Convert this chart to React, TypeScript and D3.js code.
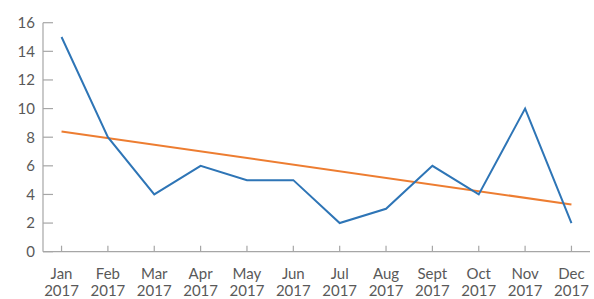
import React from 'react';
import * as d3 from 'd3';

const months = ['Jan', 'Feb', 'Mar', 'Apr', 'May', 'Jun', 'Jul', 'Aug', 'Sept', 'Oct', 'Nov', 'Dec'];
const years = ['2017', '2017', '2017', '2017', '2017', '2017', '2017', '2017', '2017', '2017', '2017', '2017'];
const values = [15, 8, 4, 6, 5, 5, 2, 3, 6, 4, 10, 2];
// trend line: value at first and last month
const trendStart = 8.4;
const trendEnd = 3.3;
const yTicks = [0, 2, 4, 6, 8, 10, 12, 14, 16];

const width = 594;
const height = 299;
const font = 'Lato, "Noto Sans", sans-serif';
const axisColor = '#a6a6a6';
const textColor = '#595959';

const App = () => {
  const x = d3.scalePoint<string>().domain(months).range([43, 590]).padding(0.4);
  const y = d3.scaleLinear().domain([0, 16]).range([251.7, 22.7]);

  const dataLine = d3.line<number>()
    .x((d, i) => x(months[i]) as number)
    .y(d => y(d));

  const trend: [string, number][] = [
    [months[0], trendStart],
    [months[months.length - 1], trendEnd],
  ];
  const trendLine = d3.line<[string, number]>()
    .x(d => x(d[0]) as number)
    .y(d => y(d[1]));

  return (
    <svg width={width} height={height} style={{ position: 'fixed', left: 0, top: 0, background: '#fff' }}>
      {/* y axis */}
      <line x1={43} x2={43} y1={y(16)} y2={y(0)} stroke={axisColor} strokeWidth={1.2} />
      {yTicks.map(t => (
        <g key={t}>
          <line x1={43} x2={53} y1={y(t)} y2={y(t)} stroke={axisColor} strokeWidth={1.2} />
          <text x={35} y={y(t)} dy="0.36em" textAnchor="end" fontFamily={font} fontSize={15} fill={textColor}>{t}</text>
        </g>
      ))}
      {/* x axis */}
      <line x1={43} x2={590} y1={y(0)} y2={y(0)} stroke={axisColor} strokeWidth={1.2} />
      {months.map((m, i) => (
        <g key={m}>
          <line x1={x(m)} x2={x(m)} y1={y(0)} y2={y(0) - 6} stroke={axisColor} strokeWidth={1.2} />
          <text x={x(m)} y={279} textAnchor="middle" fontFamily={font} fontSize={15} fill={textColor}>{m}</text>
          <text x={x(m)} y={295.5} textAnchor="middle" fontFamily={font} fontSize={15} fill={textColor}>{years[i]}</text>
        </g>
      ))}
      <path d={trendLine(trend) || ''} fill="none" stroke="#ed7d31" strokeWidth={2} />
      <path d={dataLine(values) || ''} fill="none" stroke="#2e75b6" strokeWidth={2} />
    </svg>
  );
};

export default App;
